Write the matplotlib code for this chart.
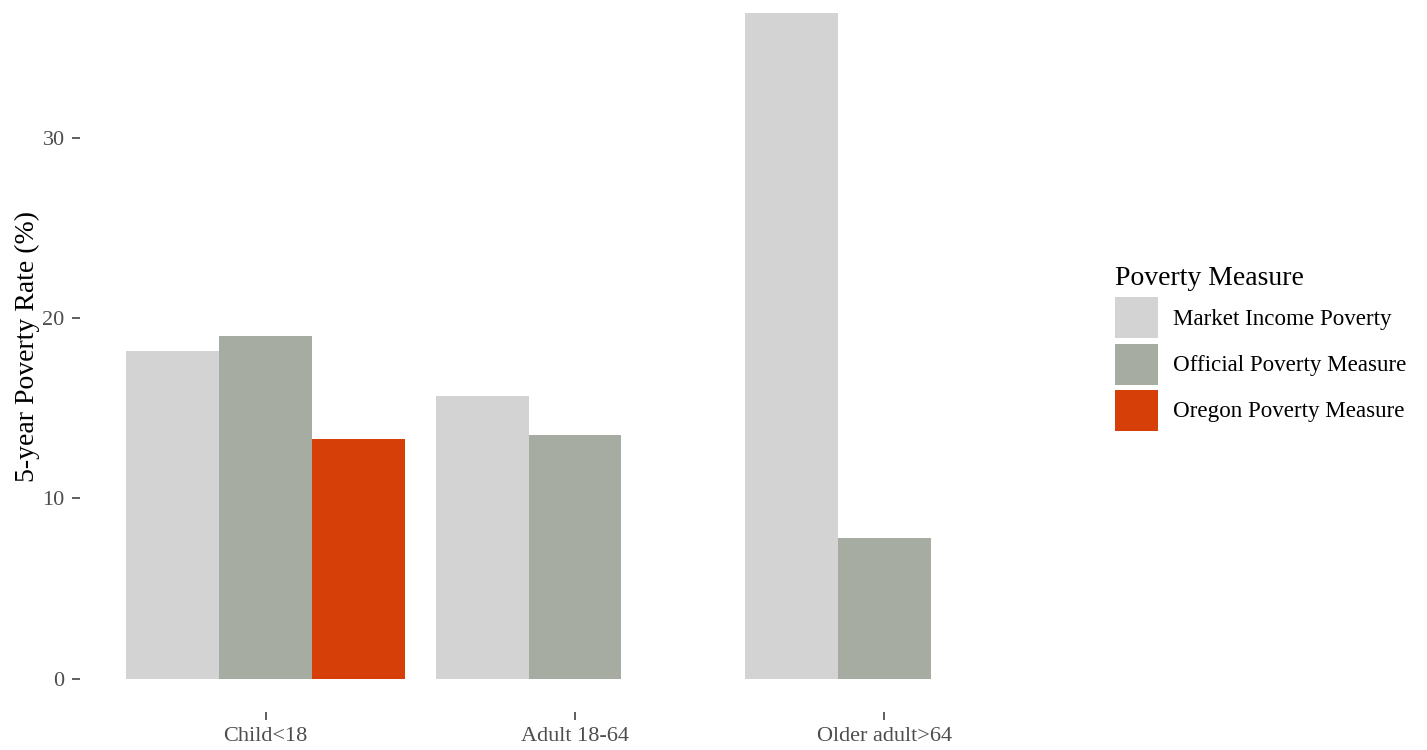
import numpy as np
import matplotlib
matplotlib.use("Agg")
import matplotlib.pyplot as plt
from matplotlib.patches import Patch

plt.rcParams['font.family'] = ['Liberation Serif', 'DejaVu Serif']

# data
groups = ["Child<18", "Adult 18-64", "Older adult>64"]
measures = ["Market Income Poverty", "Official Poverty Measure", "Oregon Poverty Measure"]
market = [18.2, 15.7, 36.9]
official = [19.0, 13.5, 7.8]
oregon = [13.3, np.nan, np.nan]
colors = ["#D3D3D3", "#A7ACA2", "#D73F09"]

fig = plt.figure(figsize=(14.27, 7.5), dpi=100)
# panel runs a little past the top edge (the original is cropped there)
ax = fig.add_axes([80 / 1427, 38 / 750, 990 / 1427, 732 / 750])

x = np.arange(1, len(groups) + 1)
w = 0.3
for i, (vals, c) in enumerate(zip([market, official, oregon], colors)):
    ax.bar(x + (i - 1) * w, vals, width=w, color=c, linewidth=0)

ax.set_xlim(0.4, 3.6)
ax.set_ylim(-1.85, 38.75)
ax.set_xticks(x)
ax.set_xticklabels(groups)
ax.set_yticks([0, 10, 20, 30])
for s in ax.spines.values():
    s.set_visible(False)
ax.tick_params(axis='both', length=6, width=1.1, color='#333333',
               labelcolor='#4D4D4D', labelsize=16, pad=5)
ax.set_ylabel("5-year Poverty Rate (%)", fontsize=20, labelpad=2)

handles = [Patch(facecolor=c, edgecolor='none', label=m) for c, m in zip(colors, measures)]
leg = fig.legend(handles=handles, title="Poverty Measure", loc='upper left',
                 bbox_to_anchor=(1103 / 1427, 1 - 254 / 750), frameon=False,
                 fontsize=16.6, title_fontsize=20, handlelength=1.87, handleheight=2.36,
                 handletextpad=0.68, labelspacing=0.22, borderpad=0, alignment='left')
# a little room between the title and the keys
leg._legend_box.sep = 5

fig.savefig("out.png", dpi=100)
